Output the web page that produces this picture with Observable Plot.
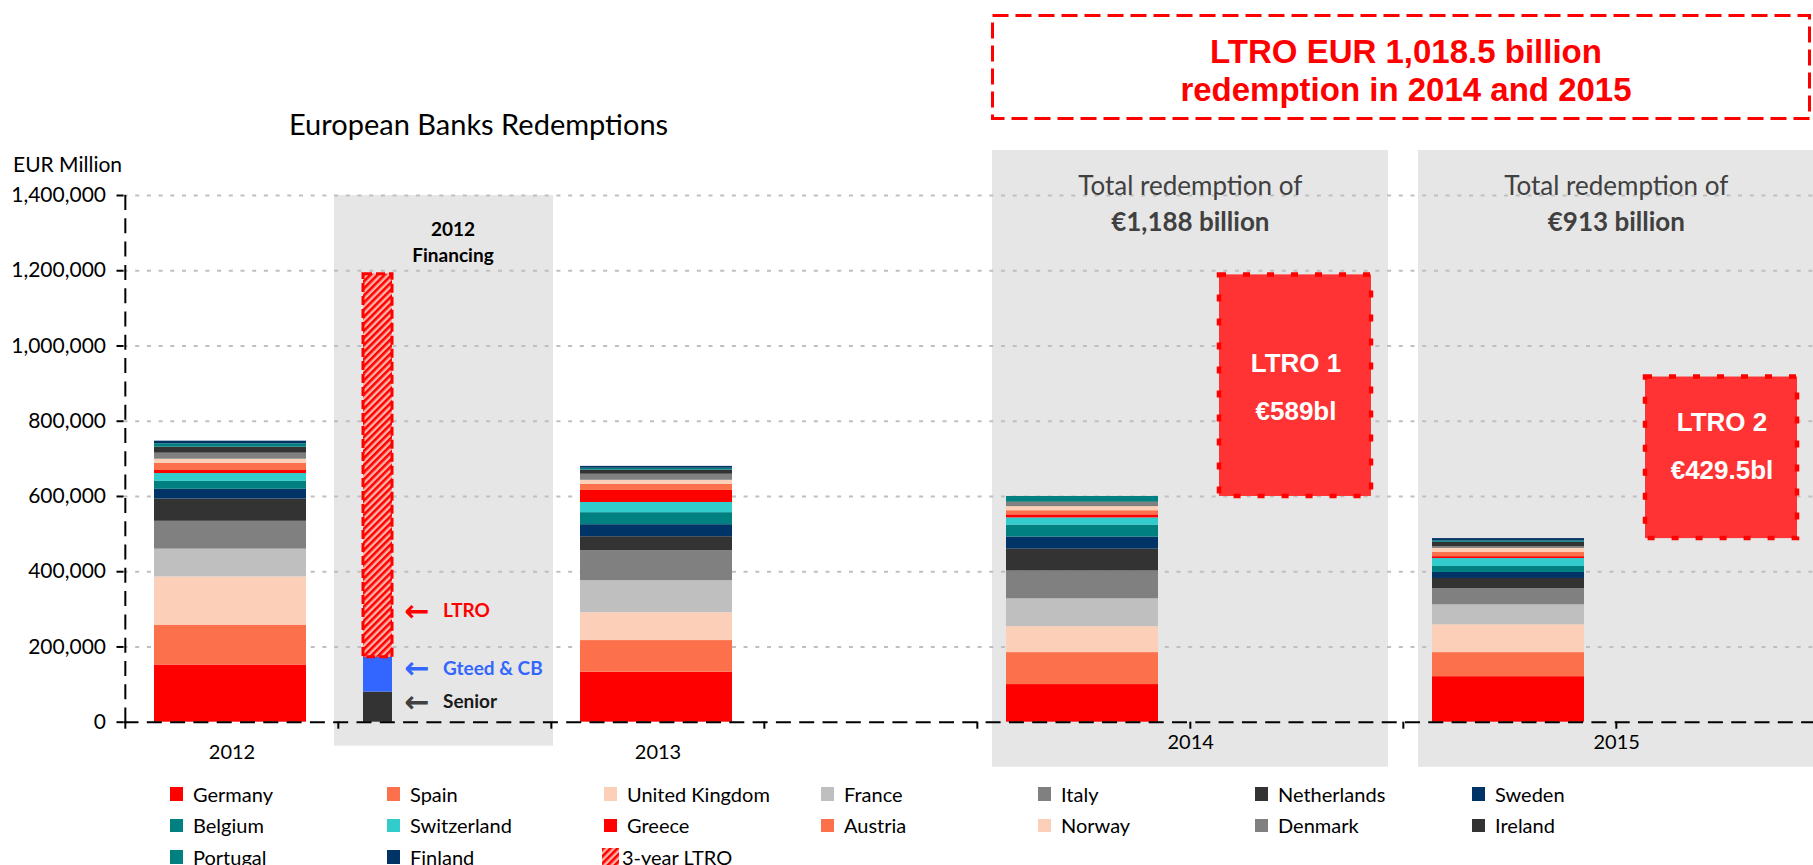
<!DOCTYPE html>
<html>
<head>
<meta charset="utf-8">
<script src="https://cdn.jsdelivr.net/npm/d3@7"></script>
<script src="https://cdn.jsdelivr.net/npm/@observablehq/plot@0.6"></script>
<style>
html,body{margin:0;padding:0;background:#fff;overflow:hidden;}
#wrap{position:relative;width:1813px;height:865px;font-family:Lato,sans-serif;}
#chart{position:absolute;left:0;top:0;}
#header{position:absolute;left:0;top:0;pointer-events:none;}
#legend{position:absolute;left:169.5px;top:778px;display:grid;grid-template-columns:repeat(7,217px);grid-auto-rows:31.5px;}
.item{display:flex;align-items:center;font-size:20px;color:#000;white-space:nowrap;}
.sw{width:13.5px;height:13.5px;margin-right:10px;flex:none;}
.swh{width:17px;height:17px;margin-left:-1.5px;margin-right:3px;flex:none;}
</style>
</head>
<body>
<div id="wrap">
<svg width="0" height="0" style="position:absolute">
  <defs>
    <pattern id="ltroHatch" patternUnits="userSpaceOnUse" width="5" height="5" patternTransform="rotate(45)">
      <rect width="5" height="5" fill="#FFB4A8"></rect>
      <rect width="2.6" height="5" fill="#FF0000"></rect>
    </pattern>
  </defs>
</svg>
<div id="chart"></div>
<svg id="header" width="1813" height="190">
  <rect x="992.5" y="15.5" width="817" height="103" fill="none" stroke="#FF0000" stroke-width="3" stroke-dasharray="16,7"></rect>
  <text x="1406" y="63" text-anchor="middle" font-family="Liberation Sans, Arial, sans-serif" font-weight="bold" font-size="33" fill="#FF0000">LTRO EUR 1,018.5 billion</text>
  <text x="1406" y="101" text-anchor="middle" font-family="Liberation Sans, Arial, sans-serif" font-weight="bold" font-size="33" fill="#FF0000">redemption in 2014 and 2015</text>
  <text x="289" y="135" font-family="Lato, sans-serif" font-size="29" fill="#000">European Banks Redemptions</text>
  <text x="13" y="172" font-family="Lato, sans-serif" font-size="21" fill="#000">EUR Million</text>
</svg>
<div id="legend"></div>
</div>
<script>
// ---------- data ----------
const countries = ["Germany","Spain","United Kingdom","France","Italy","Netherlands","Sweden",
  "Belgium","Switzerland","Greece","Austria","Norway","Denmark","Ireland","Portugal","Finland"];
const countryColors = ["#FF0000","#FC704C","#FCCFB9","#BFBFBF","#808080","#333333","#003366",
  "#008080","#33CCCC","#FF0000","#FC704C","#FCCFB9","#808080","#333333","#008080","#003366"];
const years = ["2012","2013","2014","2015"];
// EUR million, same order as countries
const values2012 = [152000,106000,128000,74000,74000,59000,26000,21000,21000,8000,19000,11000,16000,16000,9000,7000];
const values2013 = [133000,84000,74000,85000,80000,37000,32000,32000,27000,32000,16000,11000,16000,11000,5000,5000];
const values2014 = [100000,85000,69000,74000,74000,58000,32000,32000,19000,8000,11000,11000,11000,1000,15000,0];
const values2015 = [121000,64000,74000,53000,43000,27000,16000,16000,21000,5000,11000,11000,5000,11000,4000,6000];
const yearValues = [values2012, values2013, values2014, values2015];

const financingParts = ["Senior","Gteed & CB","3-year LTRO"];
const financingLabels = ["Senior","Gteed & CB","LTRO"];
const financingValues = [80000, 92500, 1018500];
const financingColors = ["#333333","#3366FF","url(#ltroHatch)"];

const ltroNames = ["LTRO 1","LTRO 2"];
const ltroYears = ["2014","2015"];
const ltroValues = [589000, 429500];
const ltroLabels = ["€589bl","€429.5bl"];
const totalLabels = ["€1,188 billion","€913 billion"];

const xCategories = ["2012","2012 Financing","2013","gap","2014","LTRO 1","2015","LTRO 2"];
const yTicks = [0,200000,400000,600000,800000,1000000,1200000,1400000];

// ---------- derived tables ----------
const redemptions = years.flatMap((yr, j) => countries.map((c, i) => ({year: yr, country: c, value: yearValues[j][i]})));
const finCum = d3.cumsum(financingValues);
const financingRows = financingParts.map((p, i) => ({part: p, label: financingLabels[i], y1: finCum[i] - financingValues[i], y2: finCum[i]}));
const yearTotals = new Map(years.map((y, j) => [y, d3.sum(yearValues[j])]));
const ltroRows = ltroNames.map((n, i) => ({name: n, label: ltroLabels[i], y1: yearTotals.get(ltroYears[i]), y2: yearTotals.get(ltroYears[i]) + ltroValues[i]}));

// ---------- styles ----------
const xRange = [123.5, 1830.2];
const step = (xRange[1] - xRange[0]) / xCategories.length;
const panelGray = "#E6E6E6";
const axisDash = "15,8.3";
const financingLabelColors = ["#1a1a1a","#3366FF","#FF0000"];
const arrowColors = ["#404040","#3366FF","#FF0000"];
const financingLabelDy = [-5, -6, -46];
const ltroTextDy = [-5, -18];

const marks = [
  // shaded panels
  Plot.cell(["2012 Financing"], {x: d => d, fill: panelGray, insetLeft: -4, insetRight: -2, insetBottom: -24}),
  Plot.cell(["2014","2015"], {x: d => d, fill: panelGray, insetLeft: 15, insetRight: -1, insetTop: -45, insetBottom: -45}),
  Plot.cell(["LTRO 1"], {x: d => d, fill: panelGray, insetRight: 15, insetTop: -45, insetBottom: -45}),
  Plot.cell(["LTRO 2"], {x: d => d, fill: panelGray, insetRight: -5, insetTop: -45, insetBottom: -45}),
  // gridlines
  Plot.gridY(yTicks.filter(v => v > 0), {stroke: "#BFBFBF", strokeOpacity: 1, strokeWidth: 2, strokeDasharray: "4,7.7"}),
  // stacked country bars
  Plot.barY(redemptions, {x: "year", y: "value", fill: "country", insetLeft: 29, insetRight: 32}),
  // 2012 financing bar
  Plot.barY(financingRows, {x: () => "2012 Financing", y1: "y1", y2: "y2", fill: "part", insetLeft: 25, insetRight: 159}),
  Plot.barY(financingRows.filter(d => d.part === "3-year LTRO"), {x: () => "2012 Financing", y1: "y1", y2: "y2", fill: "none", stroke: "#FF0000", strokeWidth: 3, strokeDasharray: "9,4", insetLeft: 25, insetRight: 159}),
  // LTRO boxes
  Plot.barY(ltroRows, {x: "name", y1: "y1", y2: "y2", fill: "#FF3333", stroke: "#FF0000", strokeWidth: 4.5, strokeDasharray: "7,17", insetLeft: 29, insetRight: 32}),
  // axes lines
  Plot.ruleY([0], {stroke: "#000", strokeWidth: 2, strokeDasharray: axisDash}),
  Plot.ruleX(["2012"], {x: d => d, dx: -step / 2, stroke: "#000", strokeWidth: 2, strokeDasharray: axisDash, insetBottom: -7}),
  Plot.axisY(yTicks, {tickFormat: d3.format(","), tickSize: 7, tickPadding: 11, fontSize: 21, strokeWidth: 2, label: null}),
  Plot.axisX(xCategories, {tickFormat: () => "", tickSize: 7, dx: -step / 2, strokeWidth: 2, label: null}),
  // x labels
  Plot.text(years.slice(0, 2), {x: d => d, text: d => d, frameAnchor: "bottom", lineAnchor: "middle", dy: 30, fontSize: 20, fill: "#000"}),
  Plot.text(years.slice(2), {x: d => d, text: d => d, frameAnchor: "bottom", lineAnchor: "middle", dy: 20, dx: step / 2, fontSize: 20, fill: "#000"}),
  // panel headings
  Plot.text(["2012 Financing"], {x: d => d, text: () => "2012\nFinancing", frameAnchor: "top", lineAnchor: "middle", dy: 45, dx: 8, fontSize: 19, fontWeight: "bold", lineHeight: 1.37, fill: "#000"}),
  Plot.text(ltroNames, {x: d => d, text: () => "Total redemption of", frameAnchor: "top", lineAnchor: "middle", dy: -9, dx: -step / 2, fontSize: 26, fill: "#404040"}),
  Plot.text(ltroNames, {x: d => d, text: (d, i) => totalLabels[i], frameAnchor: "top", lineAnchor: "middle", dy: 27, dx: -step / 2, fontSize: 26, fontWeight: "bold", fill: "#404040"}),
  // LTRO box labels
  ...ltroRows.map((r, i) => Plot.text([r], {x: "name", y: d => (d.y1 + d.y2) / 2, text: d => `${d.name}\n${d.label}`, dx: -1, dy: ltroTextDy[i], lineHeight: 1.84, fontSize: 26, fontWeight: "bold", fontFamily: "Liberation Sans, Arial, sans-serif", fill: "#FFFFFF"})),
  // financing labels with arrows
  ...financingRows.map((r, i) => Plot.text([r], {x: () => "2012 Financing", y: d => d.part === "3-year LTRO" ? d.y1 : (d.y1 + d.y2) / 2, text: "label", textAnchor: "start", dx: -2, dy: financingLabelDy[i], fontSize: 19, fontWeight: "bold", fill: financingLabelColors[i]})),
  ...financingRows.map((r, i) => Plot.text([r], {x: () => "2012 Financing", y: d => d.part === "3-year LTRO" ? d.y1 : (d.y1 + d.y2) / 2, text: () => "←", textAnchor: "middle", dx: -28, dy: financingLabelDy[i], fontSize: 30, fontWeight: "bold", fontFamily: "DejaVu Sans, sans-serif", fill: arrowColors[i]}))
];

const chart = Plot.plot({
  width: 1813,
  height: 770,
  marginLeft: 123.5,
  marginRight: 0,
  marginTop: 195,
  marginBottom: 48.3,
  style: {fontFamily: "Lato, sans-serif", fontSize: "20px", color: "#000", background: "transparent", overflow: "visible"},
  x: {type: "band", domain: xCategories, range: xRange, padding: 0, label: null},
  y: {domain: [0, 1400000], label: null},
  color: {type: "ordinal", domain: countries.concat(financingParts), range: countryColors.concat(financingColors)},
  marks
});
document.getElementById("chart").appendChild(chart);

// ---------- legend ----------
const legend = document.getElementById("legend");
countries.forEach((c, i) => {
  const item = document.createElement("div");
  item.className = "item";
  const sw = document.createElement("span");
  sw.className = "sw";
  sw.style.background = countryColors[i];
  item.appendChild(sw);
  item.appendChild(document.createTextNode(c));
  legend.appendChild(item);
});
{
  const item = document.createElement("div");
  item.className = "item";
  const ns = "http://www.w3.org/2000/svg";
  const sw = document.createElementNS(ns, "svg");
  sw.setAttribute("class", "swh");
  sw.setAttribute("width", "17");
  sw.setAttribute("height", "17");
  const r = document.createElementNS(ns, "rect");
  r.setAttribute("width", "17");
  r.setAttribute("height", "17");
  r.setAttribute("fill", "url(#ltroHatch)");
  sw.appendChild(r);
  item.appendChild(sw);
  item.appendChild(document.createTextNode(financingParts[2]));
  legend.appendChild(item);
}
</script>
</body>
</html>
